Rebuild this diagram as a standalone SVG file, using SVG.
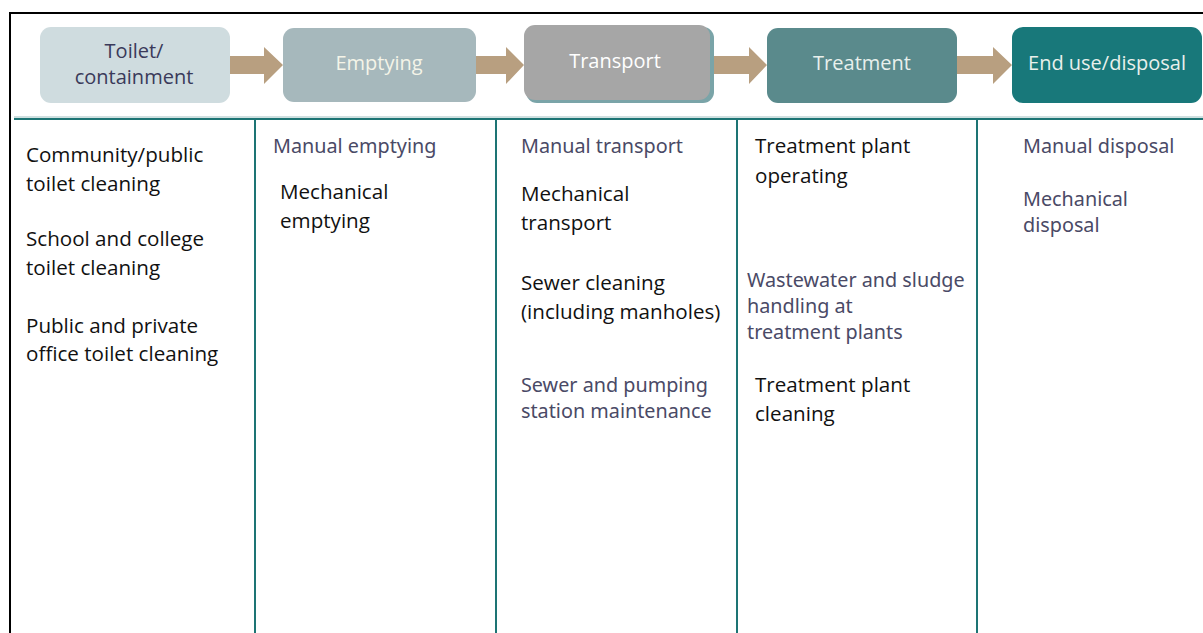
<svg xmlns="http://www.w3.org/2000/svg" width="1203" height="633" viewBox="0 0 1203 633">
<style>
.hd{font-family:"Open Sans","Noto Sans",sans-serif;font-size:20px;text-anchor:middle}
.bk{font-family:"Open Sans","Noto Sans",sans-serif;font-size:20.6px;fill:#111}
.gy{font-family:"Noto Sans","Open Sans",sans-serif;font-size:19.8px;fill:#4a4a66}
.arrow{fill:#b89f80}
.col{stroke:#1d7474;stroke-width:2;fill:none}
</style>
<rect x="0" y="0" width="1203" height="633" fill="#fff"/>
<path d="M10,633 V13 H1203" stroke="#000" stroke-width="2" fill="none"/>
<g id="connectors">
<path class="arrow" d="M230,56 H264 V47 L283,65 L264,84 V74 H230 Z"/>
<path class="arrow" d="M476,56 H506 V47 L524,65 L506,84 V74 H476 Z"/>
<path class="arrow" d="M712,56 H749 V47 L767,65 L749,84 V74 H712 Z"/>
<path class="arrow" d="M957,56 H993 V47 L1012,65 L993,84 V74 H957 Z"/>
</g>
<g id="grid">
<line x1="14" y1="117" x2="1203" y2="117" stroke="#cfe0e0" stroke-width="2"/>
<line x1="14" y1="119" x2="1203" y2="119" stroke="#1d7474" stroke-width="2"/>
<line class="col" x1="255" y1="119" x2="255" y2="633"/>
<line class="col" x1="496" y1="119" x2="496" y2="633" stroke="#5a9a9c"/>
<line class="col" x1="737" y1="119" x2="737" y2="633" stroke="#5a9a9c"/>
<line class="col" x1="977" y1="119" x2="977" y2="633"/>
</g>
<g id="n1"><rect x="40" y="27" width="190" height="76" rx="11" fill="#cfdcdf"/>
<text class="hd" x="134" y="58" fill="#3a3a5a">Toilet/</text><text class="hd" x="134" y="84" fill="#3a3a5a">containment</text></g>
<g id="n2"><rect x="283" y="28" width="193" height="74" rx="11" fill="#a6b8bc"/>
<text class="hd" x="379" y="70" fill="#f4f4e8">Emptying</text></g>
<g id="n3"><rect x="526" y="27" width="188" height="76" rx="11" fill="#7aa4a8"/><rect x="524" y="25" width="186" height="75" rx="11" fill="#a6a6a6"/>
<text class="hd" x="615" y="68" fill="#fff">Transport</text></g>
<g id="n4"><rect x="767" y="28" width="190" height="75" rx="11" fill="#5a8a8c"/>
<text class="hd" x="862" y="70" fill="#e8f0ec">Treatment</text></g>
<g id="n5"><rect x="1012" y="27" width="190" height="76" rx="11" fill="#18787a"/>
<text class="hd" x="1107" y="70" fill="#e8f0ec">End use/disposal</text></g>
<g id="c1">
<text class="bk" x="26" y="162">Community/public</text><text class="bk" x="26" y="191">toilet cleaning</text>
<text class="bk" x="26" y="246">School and college</text><text class="bk" x="26" y="275">toilet cleaning</text>
<text class="bk" x="26" y="333">Public and private</text><text class="bk" x="26" y="361">office toilet cleaning</text>
</g>
<g id="c2">
<text class="gy" x="273" y="153">Manual emptying</text>
<text class="bk" x="280" y="199">Mechanical</text><text class="bk" x="280" y="228">emptying</text>
</g>
<g id="c3">
<text class="gy" x="521" y="153">Manual transport</text>
<text class="bk" x="521" y="201">Mechanical</text><text class="bk" x="521" y="230">transport</text>
<text class="bk" x="521" y="290">Sewer cleaning</text><text class="bk" x="521" y="319">(including manholes)</text>
<text class="gy" x="521" y="392">Sewer and pumping</text><text class="gy" x="521" y="418">station maintenance</text>
</g>
<g id="c4">
<text class="bk" x="755" y="153">Treatment plant</text><text class="bk" x="755" y="183">operating</text>
<text class="gy" x="747" y="287">Wastewater and sludge</text><text class="gy" x="747" y="313">handling at</text><text class="gy" x="747" y="339">treatment plants</text>
<text class="bk" x="755" y="392">Treatment plant</text><text class="bk" x="755" y="421">cleaning</text>
</g>
<g id="c5">
<text class="gy" x="1023" y="153">Manual disposal</text>
<text class="gy" x="1023" y="206">Mechanical</text><text class="gy" x="1023" y="232">disposal</text>
</g>
</svg>
